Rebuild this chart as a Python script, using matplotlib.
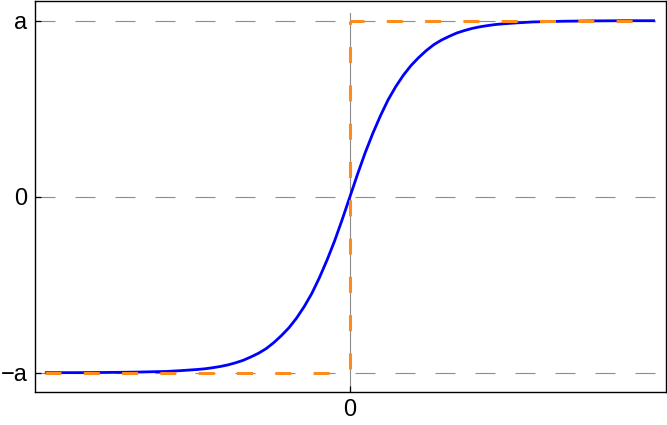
import matplotlib
matplotlib.use("Agg")
import matplotlib.pyplot as plt

# ---- data ----
blue_x = [-1.0, -0.9, -0.8, -0.75, -0.7, -0.65, -0.6, -0.55, -0.5, -0.475, -0.45, -0.425,
          -0.4, -0.375, -0.35, -0.325, -0.3, -0.275, -0.25,
          -0.225, -0.2, -0.175, -0.15, -0.125, -0.1, -0.075, -0.05, -0.025,
          0.0, 0.025, 0.05, 0.075, 0.1, 0.125, 0.15, 0.175, 0.2, 0.225, 0.25,
          0.275, 0.3, 0.325, 0.35, 0.375, 0.4, 0.425, 0.45, 0.475, 0.5, 0.55,
          0.6, 0.65, 0.7, 0.75, 0.8, 0.9, 1.0]
blue_y = [-1.0, -1.0, -0.999, -0.998, -0.997, -0.995, -0.993, -0.988, -0.982, -0.978, -0.972, -0.965,
          -0.956, -0.944, -0.93, -0.911, -0.89, -0.864, -0.83,
          -0.79, -0.745, -0.69, -0.625, -0.55, -0.46, -0.36, -0.25, -0.128,
          0.0, 0.128, 0.25, 0.36, 0.46, 0.55, 0.625, 0.69, 0.745, 0.79, 0.83,
          0.864, 0.89, 0.911, 0.93, 0.944, 0.956, 0.965, 0.972, 0.978, 0.982, 0.988,
          0.993, 0.995, 0.997, 0.998, 0.999, 1.0, 1.0]

step_x = [-1.0, 0.0, 0.0, 1.0]
step_y = [-1.0, -1.0, 1.0, 1.0]

grid_levels = [-1.0, 0.0, 1.0]
ytick_vals = [-1.0, 0.0, 1.0]
ytick_labels = ["\u2212a", "0", "a"]
xtick_vals = [0.0]
xtick_labels = ["0"]

# ---- styling ----
plt.rcParams["font.family"] = ["Liberation Sans", "DejaVu Sans"]
plt.rcParams["lines.scale_dashes"] = False
PX = 0.72  # points per pixel at dpi 100

fig = plt.figure(figsize=(6.67, 4.25), dpi=100)
ax = fig.add_axes([34.5 / 667, (425 - 392) / 425, (666 - 34.5) / 667, (392 - 1) / 425])

ax.set_xlim(-1.034, 1.036)
ax.set_ylim(-1.11, 1.112)

gray = "#8c8c8c"
for lv in grid_levels:
    ax.axhline(lv, color=gray, lw=0.8, dashes=(20 * PX, 20 * PX), zorder=1)
ax.axvline(0, ymin=0, ymax=(1.044 + 1.11) / (1.112 + 1.11), color=gray, lw=0.8, zorder=1)

ax.plot(blue_x, blue_y, color="#0000ff", lw=2.0, zorder=3,
        solid_capstyle="butt", solid_joinstyle="round")

orange = "#ff8c1a"
on, off = 16 * PX, 22.3 * PX
ax.plot(step_x[0:2], step_y[0:2], color=orange, lw=2.2, dashes=(on, off),
        dash_capstyle="butt", zorder=4)
ax.plot(step_x[1:3], step_y[1:3], color=orange, lw=2.2, linestyle=(34.3 * PX, (on, off)),
        dash_capstyle="butt", zorder=4)
ax.plot(step_x[2:4], step_y[2:4], color=orange, lw=2.2, linestyle=(2 * PX, (on, off)),
        dash_capstyle="butt", zorder=4)

ax.set_yticks(ytick_vals)
ax.set_yticklabels(ytick_labels)
ax.set_xticks(xtick_vals)
ax.set_xticklabels(xtick_labels)
ax.tick_params(direction="in", length=4, width=0.9, labelsize=17, pad=5, colors="black")
for s in ax.spines.values():
    s.set_linewidth(1.0)
    s.set_color("black")

fig.savefig("out.png", dpi=100)
